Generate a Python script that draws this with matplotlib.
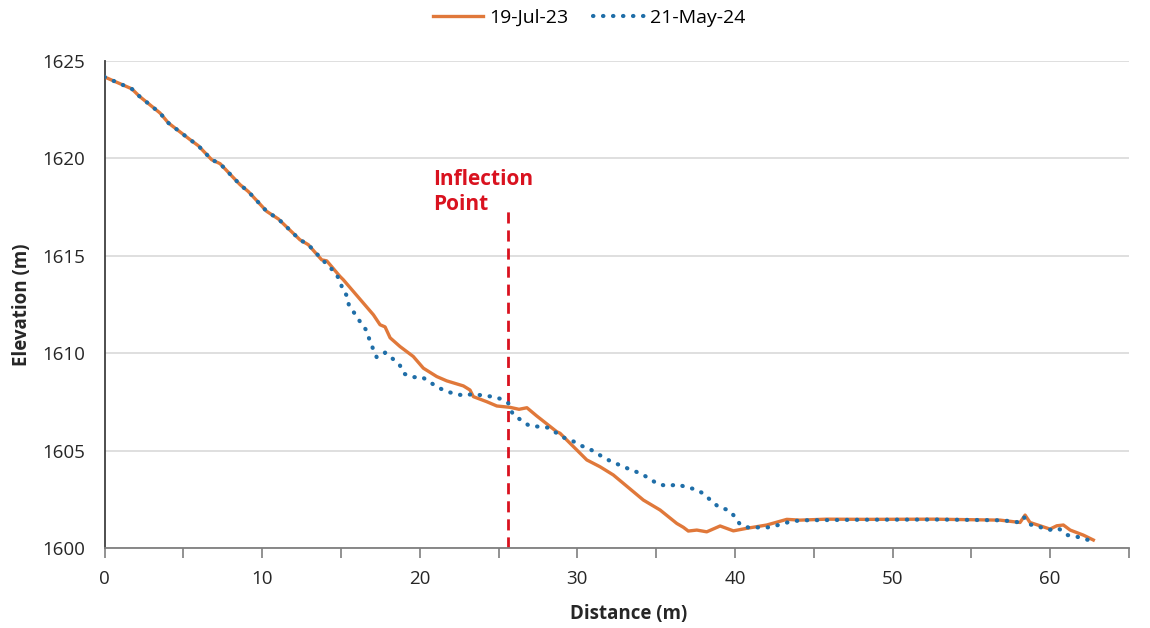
import matplotlib
matplotlib.use("Agg")
import matplotlib.pyplot as plt
from matplotlib.ticker import MultipleLocator

plt.rcParams['font.family'] = ['Open Sans', 'DejaVu Sans']

# 19-Jul-23 profile
dist_2023 = [0, 1.73, 2.21, 3.52, 4.05, 5.43, 5.95, 6.80, 7.33, 8.60, 9.12, 10.29, 11.03,
             12.40, 12.93, 13.78, 14.10, 14.94, 15.15, 17.06, 17.48, 17.80, 18.12, 18.75,
             19.59, 20.23, 21.08, 21.71, 22.77, 23.19, 23.40, 24.25, 24.89, 25.73, 26.3,
             26.8, 27.42, 28.69, 28.90, 30.60, 31.44, 32.28, 34.19, 35.25, 36.31, 36.73,
             37.04, 37.58, 38.21, 39.06, 39.90, 40.75, 42.02, 43.29, 44.13, 45.82, 48.36,
             52.59, 56.82, 58.09, 58.41, 58.72, 59.36, 59.99, 60.42, 60.84, 61.27, 62.11, 62.74]
elev_2023 = [1624.18, 1623.57, 1623.19, 1622.33, 1621.82, 1620.96, 1620.65, 1619.93, 1619.73,
             1618.65, 1618.30, 1617.28, 1616.89, 1615.82, 1615.57, 1614.79, 1614.74, 1613.94,
             1613.77, 1611.97, 1611.46, 1611.35, 1610.79, 1610.34, 1609.83, 1609.23, 1608.80,
             1608.58, 1608.32, 1608.11, 1607.77, 1607.51, 1607.29, 1607.22, 1607.12, 1607.20,
             1606.78, 1605.97, 1605.89, 1604.52, 1604.17, 1603.75, 1602.46, 1601.95, 1601.26,
             1601.06, 1600.87, 1600.92, 1600.83, 1601.13, 1600.88, 1601.01, 1601.18, 1601.47,
             1601.43, 1601.48, 1601.47, 1601.48, 1601.43, 1601.31, 1601.69, 1601.31, 1601.14,
             1600.97, 1601.14, 1601.18, 1600.92, 1600.66, 1600.41]

# 21-May-24 profile
dist_2024 = [0, 1.73, 2.21, 3.52, 4.05, 5.43, 5.95, 6.80, 7.33, 8.60, 9.12, 10.29, 11.03,
             12.40, 12.93, 13.78, 14.20, 14.63, 14.94, 15.11, 15.37, 15.51, 15.85, 16.21,
             16.59, 16.80, 17.02, 17.27, 17.80, 18.29, 18.75, 19.02, 19.59, 20.16, 20.65,
             21.14, 21.71, 22.28, 22.81, 23.40, 24.04, 24.63, 25.16, 25.62, 25.90, 26.41,
             26.94, 27.53, 28.12, 28.65, 29.16, 29.71, 30.28, 30.81, 31.87, 32.92, 34.09,
             35.14, 35.77, 36.37, 36.94, 37.53, 38.04, 38.48, 38.99, 39.58, 40.01, 40.32,
             40.89, 41.55, 42.16, 42.75, 43.37, 44.13, 48.0, 53.0, 57.0, 58.09, 58.35, 58.72,
             59.31, 59.89, 60.52, 61.12, 61.69, 62.28, 62.5]
elev_2024 = [1624.18, 1623.57, 1623.19, 1622.33, 1621.82, 1620.96, 1620.65, 1619.93, 1619.73,
             1618.65, 1618.30, 1617.28, 1616.89, 1615.82, 1615.57, 1614.83, 1614.49, 1614.14,
             1613.73, 1613.25, 1612.96, 1612.45, 1612.06, 1611.62, 1611.20, 1610.72, 1610.26,
             1609.79, 1610.03, 1609.71, 1609.36, 1608.94, 1608.77, 1608.77, 1608.51, 1608.25,
             1608.03, 1607.91, 1607.82, 1607.91, 1607.82, 1607.77, 1607.65, 1607.43, 1606.88,
             1606.57, 1606.28, 1606.23, 1606.18, 1605.92, 1605.66, 1605.49, 1605.24, 1605.07,
             1604.55, 1604.17, 1603.80, 1603.27, 1603.18, 1603.27, 1603.11, 1603.01, 1602.77,
             1602.43, 1602.09, 1601.95, 1601.60, 1601.21, 1601.04, 1601.06, 1601.06, 1601.18,
             1601.32, 1601.42, 1601.45, 1601.46, 1601.42, 1601.31, 1601.57, 1601.21, 1601.09,
             1600.92, 1601.01, 1600.66, 1600.58, 1600.44, 1600.40]

inflection_x = 25.62
inflection_top = 1617.6

fig = plt.figure(figsize=(11.5, 6.28), dpi=100)
ax = fig.add_axes([0.0909, 0.1274, 0.8908, 0.7755])

ax.plot(dist_2023, elev_2023, color='#E0783A', lw=2.4, label='19-Jul-23', zorder=3,
        solid_joinstyle='round')
ax.plot(dist_2024, elev_2024, color='#1F6EA8', lw=3.0, linestyle=(0, (0.1, 2.3)),
        dash_capstyle='round', label='21-May-24', zorder=4)

ax.plot([inflection_x, inflection_x], [1600, inflection_top], color='#D9121F', lw=2,
        linestyle=(0, (4, 2.5)), zorder=2)
ax.text(20.84, 1619.45, 'Inflection\nPoint', color='#D9121F', fontsize=15,
        fontweight='bold', ha='left', va='top', linespacing=1.25)

ax.set_xlim(0, 65)
ax.set_ylim(1600, 1625)
ax.xaxis.set_minor_locator(MultipleLocator(5))
ax.yaxis.set_major_locator(MultipleLocator(5))
ax.set_xticks([0, 10, 20, 30, 40, 50, 60])
ax.grid(axis='y', color='#D9D9D9', lw=1.2)
ax.set_axisbelow(True)

for s in ['top', 'right']:
    ax.spines[s].set_visible(False)
ax.spines['left'].set_color('#404040')
ax.spines['left'].set_linewidth(1.3)
ax.spines['bottom'].set_color('#7F7F7F')
ax.spines['bottom'].set_linewidth(1.3)

ax.tick_params(axis='x', which='both', direction='out', length=7, width=1.2,
               color='#7F7F7F', labelsize=13.5, labelcolor='#262626', pad=9)
ax.tick_params(axis='y', length=0, labelsize=13.5, labelcolor='#262626', pad=14)

ax.set_xlabel('Distance (m)', fontsize=13.5, fontweight='bold', color='#262626')
ax.xaxis.set_label_coords(0.512, -0.115)
ax.set_ylabel('Elevation (m)', fontsize=13.5, fontweight='bold', color='#262626', labelpad=7)

fig.legend(loc='upper center', bbox_to_anchor=(0.512, 1.014), ncol=2, frameon=False,
           fontsize=14, handlelength=2.6, columnspacing=1.3, handletextpad=0.3)

fig.savefig('out.png', dpi=100)
